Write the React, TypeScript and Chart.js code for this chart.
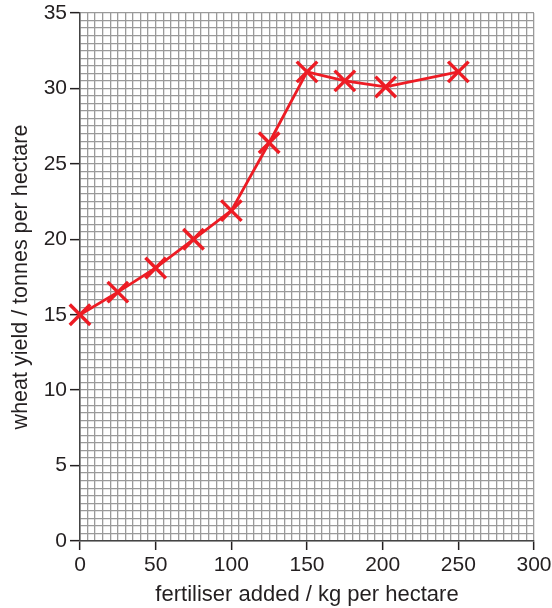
import React, { useEffect, useRef } from "react";
import { Chart, registerables } from "chart.js";

Chart.register(...registerables);

const fertiliser: number[] = [0, 25, 50, 75, 100, 125, 150, 175, 202, 250];
const wheatYield: number[] = [15, 16.5, 18.1, 20, 21.9, 26.4, 31.1, 30.5, 30.1, 31.1];
const xTickLabels: number[] = [0, 50, 100, 150, 200, 250, 300];
const yTickLabels: number[] = [0, 5, 10, 15, 20, 25, 30, 35];
const xMinorStep = 5;
const yMinorStep = 0.5;

const FONT = "'Liberation Sans', Arial, Helvetica, sans-serif";
const INK = "#231f20";
const GRID = "#9a9a9a";
const RED = "#ed1c24";

function buildTicks(min: number, max: number, step: number) {
  const out: { value: number }[] = [];
  const n = Math.round((max - min) / step);
  for (let i = 0; i <= n; i++) out.push({ value: +(min + i * step).toFixed(4) });
  return out;
}

export default function App() {
  const ref = useRef<HTMLCanvasElement | null>(null);

  useEffect(() => {
    if (!ref.current) return;
    const isMajor = (v: number, list: number[]) => list.some((t) => Math.abs(t - v) < 1e-6);
    const chart = new Chart(ref.current, {
      type: "line",
      data: {
        datasets: [
          {
            data: fertiliser.map((x, i) => ({ x, y: wheatYield[i] })),
            borderColor: RED,
            borderWidth: 2.8,
            pointStyle: "crossRot",
            pointRadius: 14.5,
            pointBorderWidth: 3.4,
            pointBorderColor: RED,
            pointBackgroundColor: RED,
            tension: 0,
            clip: false,
          },
        ],
      },
      options: {
        animation: false,
        responsive: false,
        layout: { autoPadding: false, padding: { top: 13, right: 18, left: 0, bottom: 0 } },
        plugins: { legend: { display: false }, tooltip: { enabled: false } },
        scales: {
          x: {
            type: "linear",
            min: 0,
            max: 300,
            afterBuildTicks: (s: any) => {
              s.ticks = buildTicks(0, 300, xMinorStep);
            },
            afterFit: (s: any) => {
              s.height = 67;
              s.paddingLeft = 0;
              s.paddingRight = 0;
            },
            ticks: {
              autoSkip: false,
              maxRotation: 0,
              minRotation: 0,
              padding: 3,
              color: INK,
              font: { family: FONT, size: 21 },
              callback: (v: any) => (isMajor(Number(v), xTickLabels) ? String(v) : ""),
            },
            grid: {
              color: GRID,
              lineWidth: 1.3,
              tickLength: 9,
              tickWidth: 1.5,
              tickColor: (c: any) => (c.tick && isMajor(c.tick.value, xTickLabels) ? INK : "rgba(0,0,0,0)"),
            },
            border: { display: true, color: "#444", width: 1.5 },
            title: {
              display: true,
              text: "fertiliser added / kg per hectare",
              color: INK,
              font: { family: FONT, size: 22 },
              padding: { top: 0, bottom: 0 },
            },
          },
          y: {
            type: "linear",
            min: 0,
            max: 35,
            afterBuildTicks: (s: any) => {
              s.ticks = buildTicks(0, 35, yMinorStep);
            },
            afterFit: (s: any) => {
              s.width = 80;
              s.paddingTop = 0;
              s.paddingBottom = 0;
            },
            ticks: {
              autoSkip: false,
              padding: 3,
              color: INK,
              font: { family: FONT, size: 21 },
              callback: (v: any) => (isMajor(Number(v), yTickLabels) ? String(v) : ""),
            },
            grid: {
              color: GRID,
              lineWidth: 1.3,
              tickLength: 10,
              tickWidth: 1.5,
              tickColor: (c: any) => (c.tick && isMajor(c.tick.value, yTickLabels) ? INK : "rgba(0,0,0,0)"),
            },
            border: { display: true, color: "#444", width: 1.5 },
            title: {
              display: true,
              text: "wheat yield / tonnes per hectare",
              color: INK,
              font: { family: FONT, size: 21.5 },
              padding: { top: 8, bottom: 0 },
            },
          },
        },
      },
    });
    return () => chart.destroy();
  }, []);

  return (
    <div style={{ position: "absolute", left: 0, top: 0, width: 552, height: 608, background: "#fff" }}>
      <canvas ref={ref} width={552} height={608} />
    </div>
  );
}
